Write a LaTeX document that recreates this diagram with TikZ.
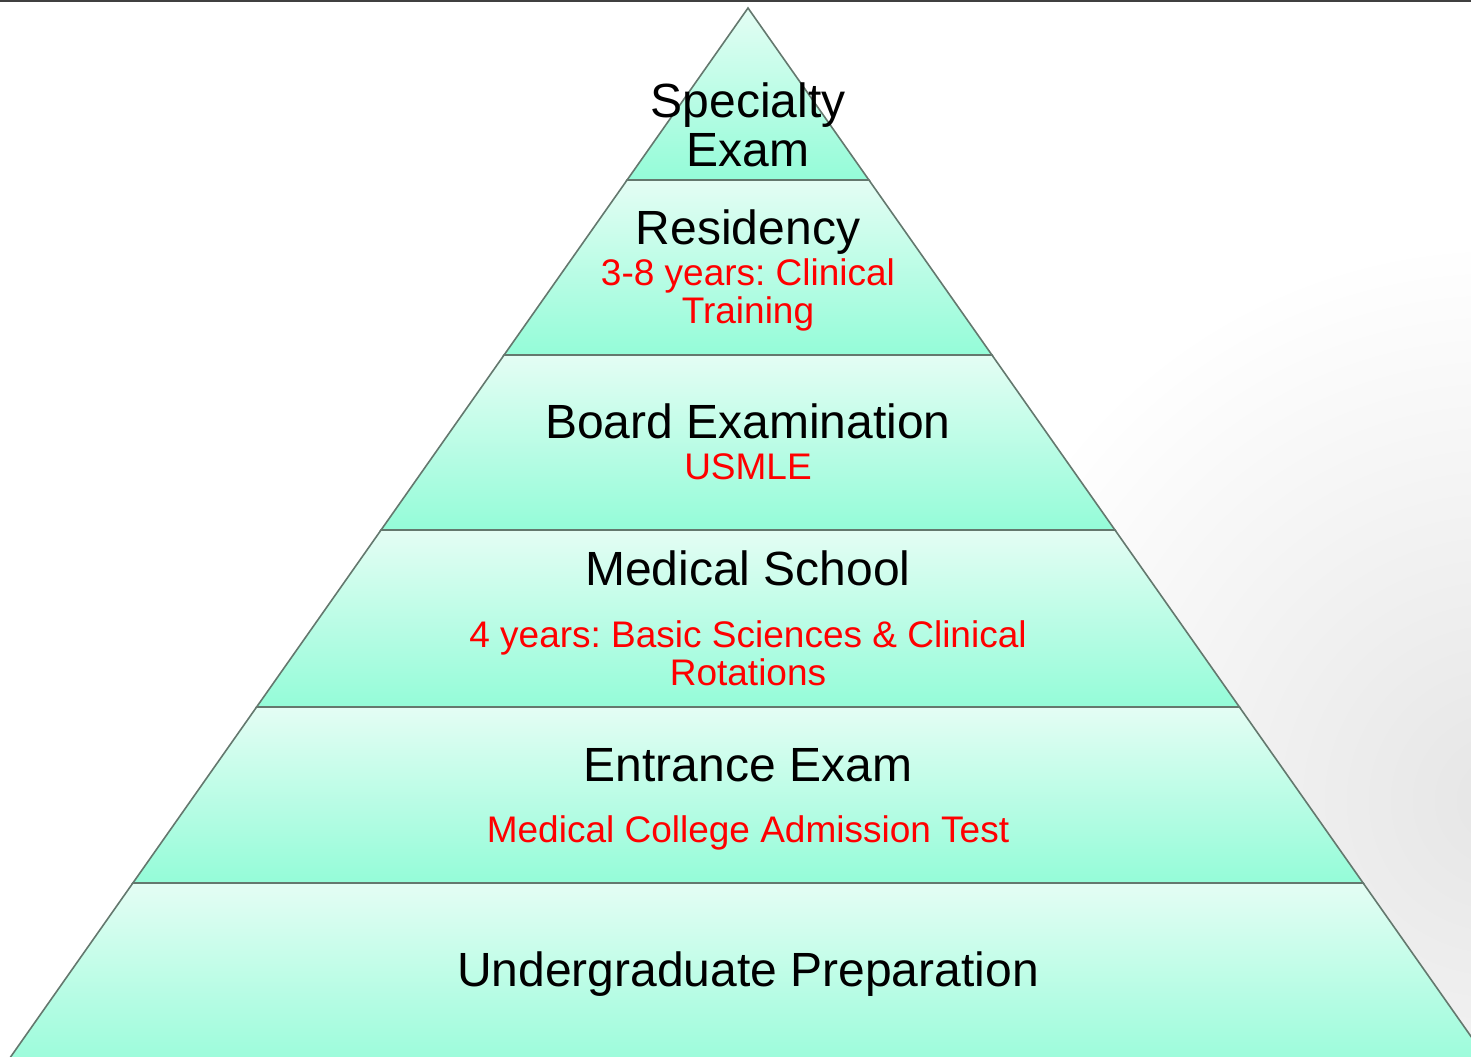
\documentclass[tikz,border=0pt]{standalone}
\usepackage{fontspec}
\setmainfont{Liberation Sans}
\frenchspacing
\usetikzlibrary{positioning,calc}
\definecolor{layertop}{RGB}{228,253,244}
\definecolor{layerbot}{RGB}{148,252,216}
\definecolor{edgegray}{RGB}{100,120,110}
\definecolor{redi}{RGB}{255,0,0}
\tikzset{
          layer/.style={top color=layertop,bottom color=layerbot,
            draw=edgegray,line width=0.8pt},
          title/.style={font=\fontsize{24}{25}\selectfont,text=black,
            anchor=base,inner sep=0pt},
          texto/.style={font=\fontsize{18.5}{20}\selectfont,text=redi,
            anchor=base,inner sep=0pt}
        }
% one slice of the pyramid, from y=#1 down to y=#2
\newcommand\Layer[2]{%
          \pgfmathsetmacro\xa{748-0.703*(#1-8)}
          \pgfmathsetmacro\xb{748+0.703*(#1-8)}
          \pgfmathsetmacro\xc{748+0.703*(#2-8)}
          \pgfmathsetmacro\xd{748-0.703*(#2-8)}
          \path[layer] (\xa,#1) -- (\xb,#1) -- (\xc,#2) -- (\xd,#2) -- cycle;
        }
\begin{document}
\begin{tikzpicture}[x=0.5pt,y=-0.5pt]
            \useasboundingbox (0,0) rectangle (1471,1056);
            \clip (0,0) rectangle (1471,1056);

            % faded photo behind the right side
            \shade[inner color=black!10,outer color=white]
              (1500,800) circle (560);

            \Layer{8}{180} \Layer{180}{355} \Layer{355}{530}
            \Layer{530}{707} \Layer{707}{883} \Layer{883}{1080}

            \draw[black!75,line width=1.2pt] (0,1) -- (1471,1);

            \node[title] (spec1) at (748,117) {Specialty};
            \node[title] (spec2) at (748,166) {Exam};

            \node[title] (res) at (748,244) {Residency};
            \node[texto] (res1) at (748,285) {3-8 years: Clinical};
            \node[texto] (res2) at (748,323) {Training};

            \node[title] (board) at (748,438) {Board Examination};
            \node[texto] (board1) at (748,479) {USMLE};

            \node[title] (med) at (748,585) {Medical School};
            \node[texto] (med1) at (748,647)
              {4 years: Basic Sciences \& Clinical};
            \node[texto] (med2) at (748,685) {Rotations};

            \node[title] (ent) at (748,781) {Entrance Exam};
            \node[texto] (ent1) at (748,842)
              {Medical College Admission Test};

            \node[title] (ugrad) at (748,986) {Undergraduate Preparation};

          \end{tikzpicture}
\end{document}
